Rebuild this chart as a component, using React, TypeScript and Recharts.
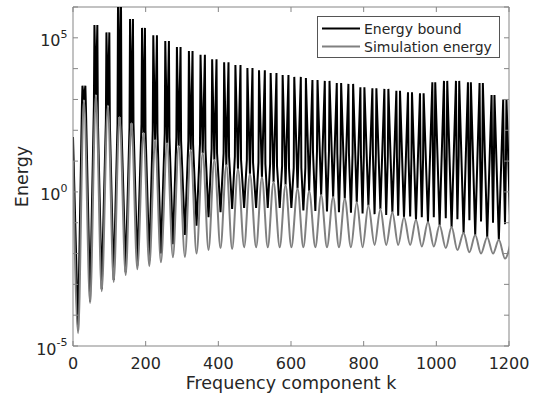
import React from 'react';
import { LineChart, Line, XAxis, YAxis, Legend, ReferenceLine } from 'recharts';

// k positions of the minima / maxima of the simulated energy
const troughK = [14, 47, 79, 112, 145, 177, 210, 242, 275, 308, 340, 373, 406, 438, 471, 504, 536, 569, 601, 634, 667, 699, 732, 765, 797, 830, 862, 895, 928, 960, 993, 1026, 1058, 1091, 1123, 1156, 1189];
const peakK = [30, 63, 96, 128, 161, 194, 226, 259, 291, 324, 357, 389, 422, 454, 487, 520, 552, 585, 618, 650, 683, 716, 748, 781, 813, 846, 879, 911, 944, 977, 1009, 1042, 1075, 1107, 1140, 1172, 1205];

// Simulation energy
const simStart = 10;
const simTrough = [2.6e-5, 2.5e-4, 6.0e-4, 1.2e-3, 2.0e-3, 3.1e-3, 3.9e-3, 5.2e-3, 7.6e-3, 7.8e-3, 1.0e-2, 1.3e-2, 1.5e-2, 1.4e-2, 1.6e-2, 1.6e-2, 1.6e-2, 1.6e-2, 1.6e-2, 1.6e-2, 1.6e-2, 1.6e-2, 1.6e-2, 1.6e-2, 1.6e-2, 1.9e-2, 1.9e-2, 1.9e-2, 1.9e-2, 1.7e-2, 1.7e-2, 1.5e-2, 1.3e-2, 1.1e-2, 1.0e-2, 1.0e-2, 6.9e-3];
const simPeak = [950, 1400, 620, 270, 170, 81, 48, 38, 31, 23, 18, 11, 7.4, 5.5, 3.8, 3.0, 2.1, 1.7, 1.3, 1.07, 0.79, 0.68, 0.6, 0.46, 0.36, 0.28, 0.22, 0.15, 0.125, 0.105, 0.083, 0.072, 0.046, 0.04, 0.034, 0.028, 0.024];

// Energy bound: two spikes per period around each maximum of the simulation
const boundStart = 60;
const boundDip = [3.2e-5, 2.8e-4, 7e-4, 1.4e-3, 2.5e-3, 4e-3, 6e-3, 1e-2, 2e-2, 4e-2, 8e-2, 0.15, 0.22, 0.28, 0.3, 0.3, 0.3, 0.3, 0.3, 0.25, 0.24, 0.23, 0.22, 0.21, 0.2, 0.19, 0.18, 0.17, 0.16, 0.15, 0.15, 0.14, 0.13, 0.12, 0.11, 0.1, 0.09];
const boundShoulder = [600, 600, 200, 150, 120, 160, 100, 80, 60, 45, 35, 25, 18, 14, 11, 9, 8, 7, 6, 6, 20, 20, 18, 18, 16, 16, 15, 14, 13, 12, 15, 15, 15, 14, 13, 10, 9];
const spikeOffset = [4, 4, 4, 4, 4, 4, 5, 5, 5, 5, 6, 6, 6, 7, 7, 8, 8, 8, 9, 9, 10, 10, 10, 10, 11, 11, 11, 11, 11, 12, 12, 12, 12, 12, 12, 12, 12];
const boundSpikeL = [2.8e3, 2.6e5, 1.5e5, 3.2e6, 4.1e5, 2.1e5, 1.2e5, 7.9e4, 5.0e4, 3.7e4, 2.8e4, 2.0e4, 1.6e4, 1.3e4, 1.05e4, 8.9e3, 7.2e3, 6.2e3, 5.4e3, 5.0e3, 4.3e3, 4.0e3, 3.4e3, 3.2e3, 2.5e3, 2.3e3, 2.2e3, 1.9e3, 1.7e3, 1.6e3, 3.6e3, 4.0e3, 4.0e3, 3.6e3, 3.4e3, 1.4e3, 1.0e3];
const boundSpikeR = [2.8e3, 2.6e5, 1.5e5, 3.2e6, 4.1e5, 2.1e5, 1.2e5, 7.9e4, 5.0e4, 3.7e4, 2.8e4, 2.0e4, 1.6e4, 1.3e4, 1.05e4, 8.9e3, 7.2e3, 6.2e3, 5.4e3, 4.3e3, 4.0e3, 3.4e3, 3.2e3, 2.5e3, 2.3e3, 2.2e3, 1.9e3, 1.7e3, 1.6e3, 3.6e3, 4.0e3, 4.0e3, 3.6e3, 3.4e3, 1.4e3, 1.0e3, 1.0e3];

const xTicks = [0, 200, 400, 600, 800, 1000, 1200];
const yTicks = [1e-5, 1e-4, 1e-3, 1e-2, 1e-1, 1, 1e1, 1e2, 1e3, 1e4, 1e5, 1e6];

type Pt = { k: number; e: number };

const simData: Pt[] = [{ k: 0, e: simStart }];
troughK.forEach((tk, n) => {
  simData.push({ k: tk, e: simTrough[n] });
  simData.push({ k: peakK[n], e: simPeak[n] });
});

const boundData: Pt[] = [{ k: 0, e: boundStart }];
troughK.forEach((tk, n) => {
  const pk = peakK[n];
  const d = spikeOffset[n];
  boundData.push({ k: tk, e: boundDip[n] });
  boundData.push({ k: pk - d - 1.5, e: boundShoulder[n] });
  boundData.push({ k: pk - d, e: boundSpikeL[n] });
  boundData.push({ k: pk, e: simPeak[n] });
  boundData.push({ k: pk + d, e: boundSpikeR[n] });
  boundData.push({ k: pk + d + 1.5, e: boundShoulder[n + 1] ?? boundShoulder[n] });
});

const PLOT = { left: 73, top: 7, right: 509, bottom: 346 };
const FONT = 'DejaVu Sans';
const TEXT = '#262626';
const AXIS = '#858585';

const XTick = (props: any) => {
  const { x, payload } = props;
  return (
    <g>
      <line x1={x} x2={x} y1={PLOT.bottom} y2={PLOT.bottom - 5} stroke={AXIS} />
      <line x1={x} x2={x} y1={PLOT.top} y2={PLOT.top + 5} stroke={AXIS} />
      <text x={x} y={369} textAnchor="middle" fontFamily={FONT} fontSize={16} fill={TEXT}>
        {payload.value}
      </text>
    </g>
  );
};

const YTick = (props: any) => {
  const { y, payload } = props;
  const exp = Math.round(Math.log10(payload.value));
  return (
    <g>
      <line x1={PLOT.left} x2={PLOT.left + 5} y1={y} y2={y} stroke={AXIS} />
      <line x1={PLOT.right} x2={PLOT.right - 5} y1={y} y2={y} stroke={AXIS} />
      {exp % 5 === 0 && (
        <text x={PLOT.left - 5.5} y={y + 8.5} textAnchor="end" fontFamily={FONT} fontSize={16} fill={TEXT}>
          10
          <tspan dy={-8.2} fontSize={11}>
            {exp}
          </tspan>
        </text>
      )}
    </g>
  );
};

const YTitle = () => (
  <text
    x={28}
    y={176.5}
    transform="rotate(-90 28 176.5)"
    textAnchor="middle"
    fontFamily={FONT}
    fontSize={17.5}
    fill={TEXT}
  >
    Energy
  </text>
);

const LegendBox = () => (
  <svg width={183} height={42} style={{ display: 'block' }}>
    <rect x={0.5} y={0.5} width={182} height={41} fill="#fff" stroke="#555" />
    <line x1={5} x2={43} y1={12.5} y2={12.5} stroke="#000" strokeWidth={2} />
    <text x={47} y={17.5} fontFamily={FONT} fontSize={14} fill={TEXT}>
      Energy bound
    </text>
    <line x1={5} x2={43} y1={30.5} y2={30.5} stroke="#808080" strokeWidth={2} />
    <text x={47} y={35.5} fontFamily={FONT} fontSize={14} fill={TEXT}>
      Simulation energy
    </text>
  </svg>
);

export default function App() {
  return (
    <div style={{ position: 'absolute', left: 0, top: 0, width: 534, height: 398, background: '#fff' }}>
      <LineChart width={534} height={398} margin={{ top: 7, right: 25, bottom: 0, left: 0 }}>
        <XAxis
          dataKey="k"
          type="number"
          domain={[0, 1200]}
          ticks={xTicks}
          interval={0}
          allowDataOverflow
          height={52}
          tickLine={false}
          tick={XTick}
          axisLine={{ stroke: AXIS }}
          label={{
            value: 'Frequency component k',
            position: 'insideBottom',
            offset: 9,
            fontSize: 17.5,
            fontFamily: FONT,
            fill: TEXT,
          }}
        />
        <YAxis
          type="number"
          scale="log"
          domain={[1e-5, 1e6]}
          ticks={yTicks}
          interval={0}
          allowDataOverflow
          width={73}
          tickLine={false}
          tick={YTick}
          axisLine={{ stroke: AXIS }}
          label={<YTitle />}
        />
        <ReferenceLine y={1e6} stroke={AXIS} />
        <ReferenceLine x={1200} stroke={AXIS} />
        <Legend
          layout="vertical"
          align="center"
          verticalAlign="middle"
          content={LegendBox}
          wrapperStyle={{ left: 317, top: 16, width: 183, height: 42 }}
        />
        <Line
          name="Energy bound"
          data={boundData}
          dataKey="e"
          type="linear"
          stroke="#000"
          strokeWidth={2}
          dot={false}
          activeDot={false}
          isAnimationActive={false}
        />
        <Line
          name="Simulation energy"
          data={simData}
          dataKey="e"
          type="monotone"
          stroke="#808080"
          strokeWidth={2}
          dot={false}
          activeDot={false}
          isAnimationActive={false}
        />
      </LineChart>
    </div>
  );
}
